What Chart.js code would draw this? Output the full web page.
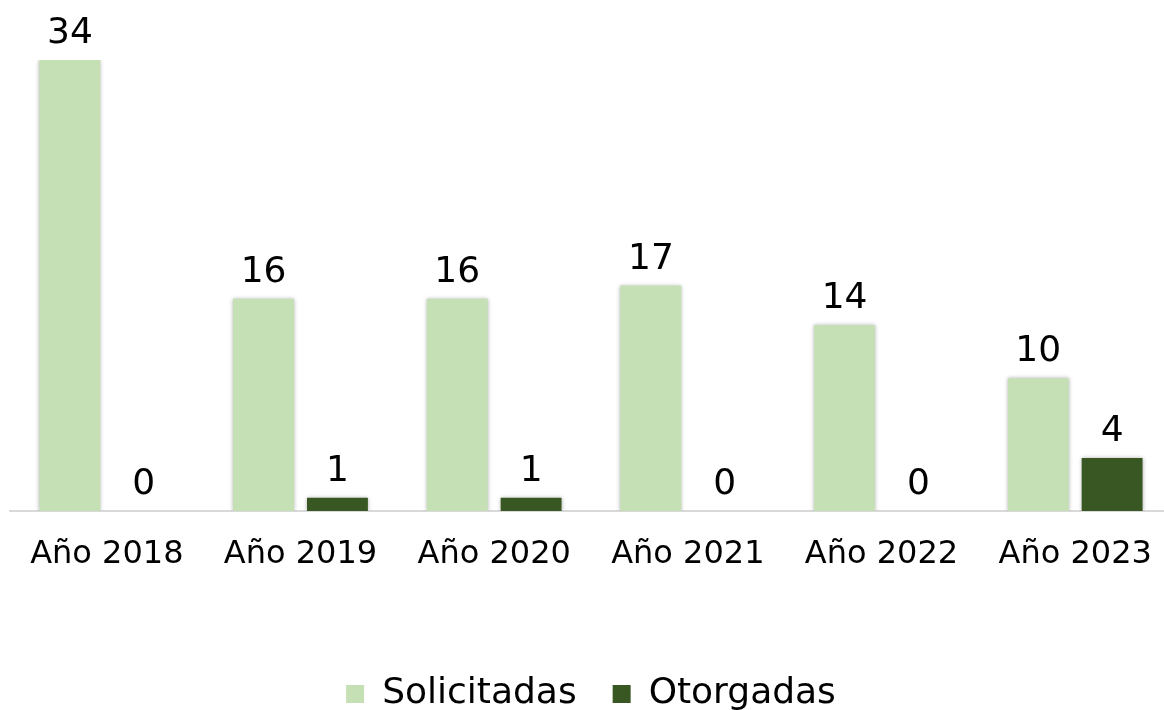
<!DOCTYPE html>
<html>
<head>
<meta charset="utf-8">
<script src="https://cdn.jsdelivr.net/npm/chart.js@4"></script>
<style>
  html, body { margin: 0; padding: 0; background: #fff; overflow: hidden; }
</style>
</head>
<body>
<canvas id="myChart" width="1174" height="710"></canvas>
<script>
const years = ["Año 2018", "Año 2019", "Año 2020", "Año 2021", "Año 2022", "Año 2023"];
const solicitadas = [34, 16, 16, 17, 14, 10];
const otorgadas = [0, 1, 1, 0, 0, 4];

const FONT = "'DejaVu Sans'";

// soft shadow round the bars, like the office original
const barShadow = {
  id: "barShadow",
  beforeDatasetsDraw(chart) {
    const ctx = chart.ctx;
    ctx.save();
    ctx.shadowColor = "rgba(0,0,0,0.30)";
    ctx.shadowBlur = 4;
    ctx.shadowOffsetX = 0;
    ctx.shadowOffsetY = 0;
  },
  afterDatasetsDraw(chart) {
    chart.ctx.restore();
  }
};

// value over every bar
const valueLabels = {
  id: "valueLabels",
  afterDatasetsDraw(chart) {
    const ctx = chart.ctx;
    ctx.save();
    ctx.fillStyle = "#000";
    ctx.font = "36px " + FONT;
    ctx.textAlign = "center";
    ctx.textBaseline = "alphabetic";
    chart.data.datasets.forEach((ds, i) => {
      chart.getDatasetMeta(i).data.forEach((bar, j) => {
        ctx.fillText(String(ds.data[j]), bar.x, bar.y - 17);
      });
    });
    ctx.restore();
  }
};

new Chart("myChart", {
  type: "bar",
  data: {
    labels: years,
    datasets: [{
      label: "Solicitadas",
      data: solicitadas,
      backgroundColor: "#c5e0b4",
      categoryPercentage: 0.763,
      barPercentage: 0.824
    }, {
      label: "Otorgadas",
      data: otorgadas,
      backgroundColor: "#385723",
      categoryPercentage: 0.763,
      barPercentage: 0.824
    }]
  },
  options: {
    responsive: false,
    animation: false,
    layout: { padding: { top: 60, left: 10, right: 2, bottom: -12 } },
    plugins: {
      legend: {
        position: "bottom",
        labels: {
          color: "#000",
          font: { family: FONT, size: 36 },
          boxWidth: 18,
          boxHeight: 18,
          padding: 36
        }
      },
      tooltip: { enabled: false }
    },
    scales: {
      x: {
        grid: { display: false },
        border: { display: true, color: "#d9d9d9", width: 2 },
        ticks: { color: "#000", font: { family: FONT, size: 32 }, padding: 16, maxRotation: 0 },
        afterFit(scale) { scale.height = 129; }
      },
      y: {
        display: false,
        min: 0,
        max: 34
      }
    }
  },
  plugins: [barShadow, valueLabels]
});
</script>
</body>
</html>
